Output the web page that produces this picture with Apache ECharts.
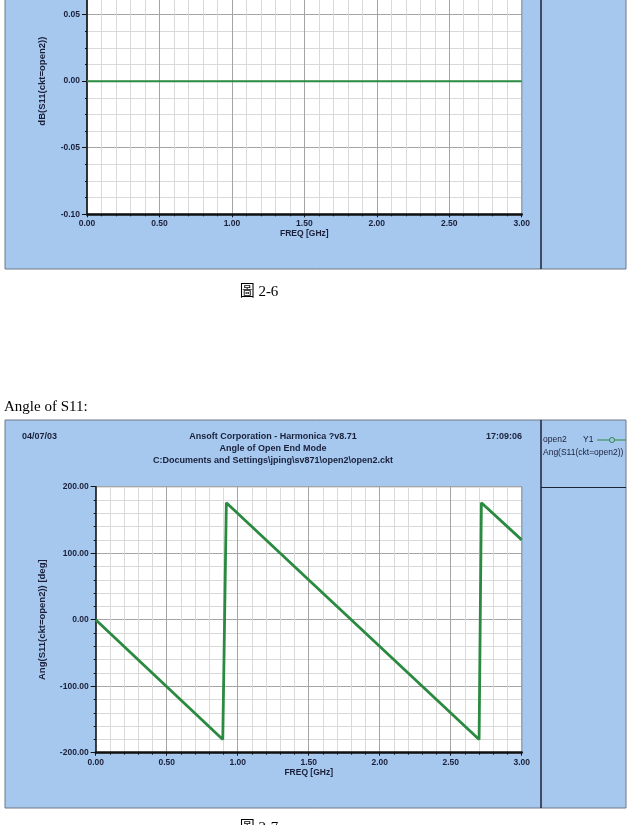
<!DOCTYPE html>
<html>
<head>
<meta charset="utf-8">
<script src="https://cdn.jsdelivr.net/npm/echarts@6/dist/echarts.min.js"></script>
<style>
  html, body { margin: 0; padding: 0; background: #ffffff; }
  #chart { width: 640px; height: 825px; }
</style>
</head>
<body>
<div id="chart"></div>
<script>
// ---- data ----
const dbFreq = [0.00, 3.00];              // GHz
const dbS11 = [0.00, 0.00];               // dB
const angFreq = [0.00, 0.895, 0.920, 2.700, 2.716, 3.00]; // GHz
const angDeg = [0, -180, 176, -180, 176, 120];             // deg
const xTicksTop = { min: 0, max: 3, interval: 0.5 };
const yTicksTop = { min: -0.10, max: 0.10, interval: 0.05 };
const xTicksBot = { min: 0, max: 3, interval: 0.5 };
const yTicksBot = { min: -200, max: 200, interval: 100 };
const titleLines = ['Ansoft Corporation - Harmonica ?v8.71', 'Angle of Open End Mode', 'C:Documents and Settings\\jping\\sv871\\open2\\open2.ckt'];
const dateText = '04/07/03';
const timeText = '17:09:06';
const legendName = 'open2';
const legendAxis = 'Y1';
const legendExpr = 'Ang(S11(ckt=open2))';
const yNameTop = 'dB(S11(ckt=open2))';
const yNameBot = 'Ang(S11(ckt=open2)) [deg]';
const xName = 'FREQ [GHz]';

// ---- styling ----
const BLUE = '#a6c8ee';
const NAVY = '#1a1f3a';
const GREEN = '#2a8a40';
const FONT = '"Liberation Sans", Arial, sans-serif';

function pairs(xs, ys) { return xs.map((x, i) => [x, ys[i]]); }

function xAxisCfg(gi, t) {
  return {
    type: 'value', gridIndex: gi, min: t.min, max: t.max, interval: t.interval,
    name: xName, nameLocation: 'middle', nameGap: 15,
    nameTextStyle: { color: NAVY, fontSize: 8.5, fontWeight: 'bold', fontFamily: FONT },
    axisLine: { show: true, onZero: false, lineStyle: { color: '#111', width: 2.5 } },
    axisTick: { show: true, length: 3, lineStyle: { color: '#111' } },
    minorTick: { show: true, splitNumber: 5, length: 2, lineStyle: { color: '#111' } },
    axisLabel: { color: NAVY, fontSize: 8.5, fontWeight: 'bold', fontFamily: FONT, margin: 5,
      formatter: v => v.toFixed(2), showMinLabel: true, showMaxLabel: true },
    splitLine: { show: true, lineStyle: { color: '#a4a4a4', width: 1 } },
    minorSplitLine: { show: true, lineStyle: { color: '#d9d9d9', width: 1 } }
  };
}
function yAxisCfg(gi, t, name, minorN, nameGap) {
  return {
    type: 'value', gridIndex: gi, min: t.min, max: t.max, interval: t.interval,
    name: name, nameLocation: 'middle', nameGap: nameGap, nameRotate: 90,
    nameTextStyle: { color: NAVY, fontSize: 9.5, fontWeight: 'bold', fontFamily: FONT },
    axisLine: { show: true, onZero: false, lineStyle: { color: '#111', width: 1.5 } },
    axisTick: { show: true, length: 5, lineStyle: { color: '#111' } },
    minorTick: { show: true, splitNumber: minorN, length: 2, lineStyle: { color: '#111' } },
    axisLabel: { color: NAVY, fontSize: 8.5, fontWeight: 'bold', fontFamily: FONT, margin: 7,
      formatter: v => v.toFixed(2) },
    splitLine: { show: true, lineStyle: { color: '#a4a4a4', width: 1 } },
    minorSplitLine: { show: true, lineStyle: { color: '#d9d9d9', width: 1 } }
  };
}

function txt(x, y, text, opts) {
  return Object.assign({
    type: 'text', x: x, y: y, z: 5,
    style: Object.assign({ text: text, fill: NAVY, fontFamily: FONT, fontSize: 10,
      fontWeight: 'bold', align: 'left', verticalAlign: 'middle' }, opts || {})
  });
}

const graphics = [
  // top panel (cut by page top)
  { type: 'rect', z: -10, shape: { x: 5, y: -20, width: 621, height: 289 },
    style: { fill: BLUE, stroke: '#6f7785', lineWidth: 1 } },
  { type: 'line', z: -9, shape: { x1: 541, y1: -20, x2: 541, y2: 269 },
    style: { stroke: '#1b2533', lineWidth: 1.5 } },
  // bottom panel
  { type: 'rect', z: -10, shape: { x: 5, y: 420, width: 621, height: 388 },
    style: { fill: BLUE, stroke: '#6f7785', lineWidth: 1 } },
  { type: 'line', z: -9, shape: { x1: 541, y1: 420, x2: 541, y2: 808 },
    style: { stroke: '#1b2533', lineWidth: 1.5 } },
  { type: 'line', z: -9, shape: { x1: 541, y1: 487.5, x2: 626, y2: 487.5 },
    style: { stroke: '#1b2533', lineWidth: 1.2 } },
  // header texts
  txt(22, 437, dateText, { fontSize: 9 }),
  txt(522, 437, timeText, { fontSize: 9, align: 'right' }),
  txt(273, 437, titleLines[0], { fontSize: 9, align: 'center' }),
  txt(273, 449, titleLines[1], { fontSize: 9, align: 'center' }),
  txt(273, 461, titleLines[2], { fontSize: 9, align: 'center' }),
  // legend
  txt(543, 440, legendName, { fontSize: 8.5, fontWeight: 'normal' }),
  txt(583, 440, legendAxis, { fontSize: 8.5, fontWeight: 'normal' }),
  { type: 'line', z: 5, shape: { x1: 597, y1: 440, x2: 626, y2: 440 },
    style: { stroke: GREEN, lineWidth: 1 } },
  { type: 'circle', z: 6, shape: { cx: 612, cy: 440, r: 2.5 },
    style: { fill: BLUE, stroke: GREEN, lineWidth: 1 } },
  txt(543, 453, legendExpr, { fontSize: 8.5, fontWeight: 'normal' }),
  // document captions
  txt(259, 292, '圖 2-6', { fill: '#000', fontSize: 15, fontWeight: 'normal', align: 'center',
    fontFamily: '"Liberation Serif", "Noto Sans CJK TC", serif' }),
  txt(4, 407, 'Angle of S11:', { fill: '#000', fontSize: 15, fontWeight: 'normal',
    fontFamily: '"Liberation Serif", serif' }),
  txt(259, 828, '圖 2-7', { fill: '#000', fontSize: 15, fontWeight: 'normal', align: 'center',
    fontFamily: '"Liberation Serif", "Noto Sans CJK TC", serif' })
];

const chart = echarts.init(document.getElementById('chart'), null, { renderer: 'canvas' });
chart.setOption({
  animation: false,
  backgroundColor: '#ffffff',
  graphic: { elements: graphics },
  grid: [
    { left: 87, width: 434.7, top: -52, height: 266.3, show: true, backgroundColor: '#ffffff',
      borderColor: '#555', borderWidth: 1, containLabel: false, outerBoundsMode: 'none' },
    { left: 95.7, width: 426, top: 486.7, height: 266, show: true, backgroundColor: '#ffffff',
      borderColor: '#555', borderWidth: 1, containLabel: false, outerBoundsMode: 'none' }
  ],
  xAxis: [xAxisCfg(0, xTicksTop), xAxisCfg(1, xTicksBot)],
  yAxis: [yAxisCfg(0, yTicksTop, yNameTop, 4, 40), yAxisCfg(1, yTicksBot, yNameBot, 5, 48)],
  series: [
    { type: 'line', name: 'dB', xAxisIndex: 0, yAxisIndex: 0, data: pairs(dbFreq, dbS11),
      showSymbol: false, lineStyle: { color: GREEN, width: 2 }, z: 3 },
    { type: 'line', name: legendName, xAxisIndex: 1, yAxisIndex: 1, data: pairs(angFreq, angDeg),
      showSymbol: false, lineStyle: { color: GREEN, width: 2.8 }, z: 3 }
  ]
});
</script>
</body>
</html>
